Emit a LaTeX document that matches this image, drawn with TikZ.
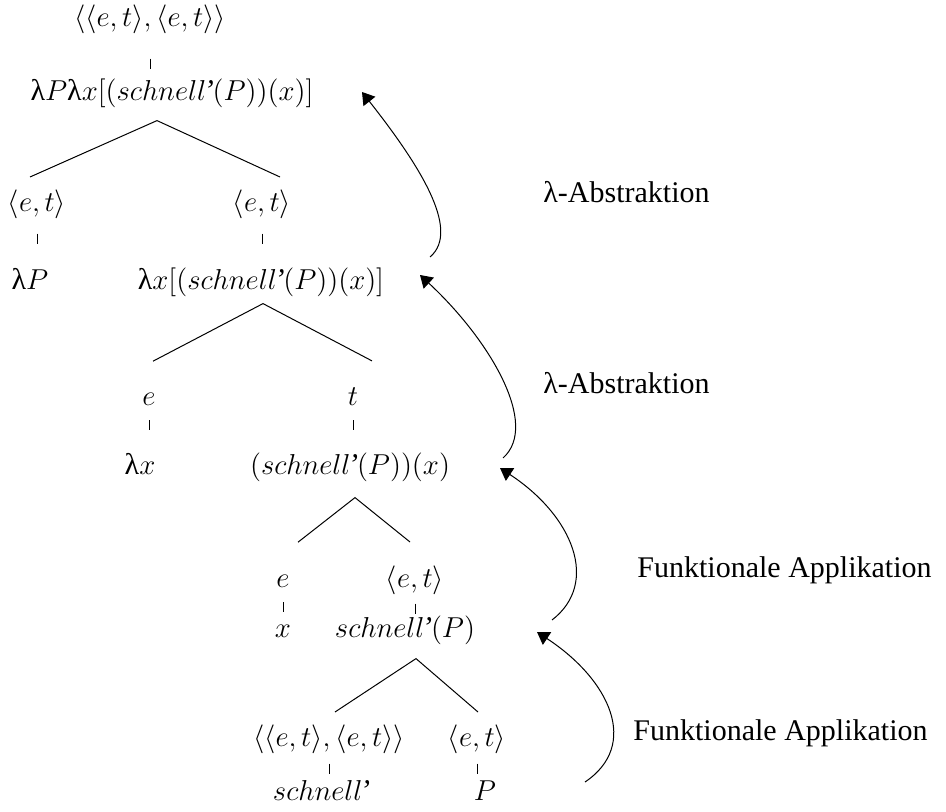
\documentclass[tikz,border=0pt]{standalone}
\usepackage[no-math]{fontspec}
\setmainfont{Liberation Serif}
\usepackage{tikz}
\usetikzlibrary{arrows.meta}
\tikzset{
  semtype/.style={anchor=base, inner sep=0pt, font=\fontsize{14}{16}\selectfont},
  semexpr/.style={semtype, font=\fontsize{15}{17}\selectfont},
  treetick/.style={line width=0.5pt},
  branch/.style={line width=0.5pt},
  derivarrow/.style={-{Triangle[width=7.5pt,length=6pt]}, line width=0.5pt},
  steplabel/.style={anchor=base west, inner sep=0pt, font=\fontsize{15}{18}\selectfont},
}
\newcommand{\lam}{\mbox{λ}}
\newcommand{\schnell}{schnell\mbox{\itshape\kern-1.2pt’\kern-0.6pt}}
\newcommand{\et}{\langle e,t\rangle}

\begin{document}
\begin{tikzpicture}[x=0.5pt, y=-0.5pt]
  \useasboundingbox (0,0) rectangle (946,812);
  % Baum
  \node[semtype] (r-t) at (150,27) {$\langle\et,\et\rangle$};
  \node[semexpr] (r-x) at (172,101) {$\lam P\lam x[(\schnell(P))(x)]$};
  \node[semtype] (p-t) at (37,212) {$\et$};
  \node[semexpr] (p-x) at (30,290) {$\lam P$};
  \node[semtype] (f-t) at (262,212) {$\et$};
  \node[semexpr] (f-x) at (261,290) {$\lam x[(\schnell(P))(x)]$};
  \node[semtype] (x1-t) at (149,405) {$e$};
  \node[semexpr] (x1-x) at (140,474) {$\lam x$};
  \node[semtype] (s-t) at (353,405) {$t$};
  \node[semexpr] (s-x) at (350,474) {$(\schnell(P))(x)$};
  \node[semtype] (x2-t) at (283,587) {$e$};
  \node[semexpr] (x2-x) at (283,637) {$x$};
  \node[semtype] (v-t) at (415,587) {$\et$};
  \node[semexpr] (v-x) at (405,637) {$\schnell(P)$};
  \node[semtype] (a-t) at (329,746) {$\langle\et,\et\rangle$};
  \node[semexpr] (a-x) at (321,800) {$\schnell$};
  \node[semtype] (b-t) at (477,746) {$\et$};
  \node[semexpr] (b-x) at (485,800) {$P$};
  \draw[treetick] (r-t.south) ++(0,24) -- ++(0,10);
  \draw[treetick] (p-t.south) ++(0,14) -- ++(0,10);
  \draw[treetick] (f-t.south) ++(0,14) -- ++(0,10);
  \draw[treetick] (x1-t.south) ++(0,15) -- ++(0,10);
  \draw[treetick] (s-t.south) ++(0,15) -- ++(0,10);
  \draw[treetick] (x2-t.south) ++(0,15) -- ++(0,10);
  \draw[treetick] (v-t.south) ++(0,9) -- ++(0,10);
  \draw[treetick] (a-t.south) ++(0,10) -- ++(0,10);
  \draw[treetick] (b-t.south) ++(0,10) -- ++(0,10);
  \draw[branch] ([shift={(-7,-13)}]p-t.north) -- ([shift={(-15,12)}]r-x.south) -- ([shift={(18,-13)}]f-t.north);
  \draw[branch] ([shift={(4,-31)}]x1-t.north) -- ([shift={(2,6)}]f-x.south) -- ([shift={(19,-26)}]s-t.north);
  \draw[branch] ([shift={(15,-32)}]x2-t.north) -- ([shift={(5,16)}]s-x.south) -- ([shift={(-5,-23)}]v-t.north);
  \draw[branch] ([shift={(6,-12)}]a-t.north) -- ([shift={(11,14)}]v-x.south) -- ([shift={(1,-12)}]b-t.north);
  % Ableitungsschritte
  \node[steplabel] (abs1) at (543,203) {λ-Abstraktion};
  \node[steplabel] (abs2) at (543,393) {λ-Abstraktion};
  \node[steplabel] (fa1) at (637,577) {Funktionale Applikation};
  \node[steplabel] (fa2) at (633,740) {Funktionale Applikation};
  \coordinate (fa2-from) at (585,782);
  \coordinate (fa2-to) at (537,632);
  \coordinate (fa1-from) at (552,620);
  \coordinate (fa1-to) at (500,468);
  \coordinate (abs2-from) at (503,458);
  \coordinate (abs2-to) at (420,275);
  \coordinate (abs1-from) at (430,257);
  \coordinate (abs1-to) at (362,92);
  \draw[derivarrow] (fa2-from) .. controls (640,745) and (610,680) .. (fa2-to);
  \draw[derivarrow] (fa1-from) .. controls (600,583) and (573,516) .. (fa1-to);
  \draw[derivarrow] (abs2-from) .. controls (540,425) and (490,340) .. (abs2-to);
  \draw[derivarrow] (abs1-from) .. controls (462,230) and (417,162) .. (abs1-to);
\end{tikzpicture}
\end{document}
